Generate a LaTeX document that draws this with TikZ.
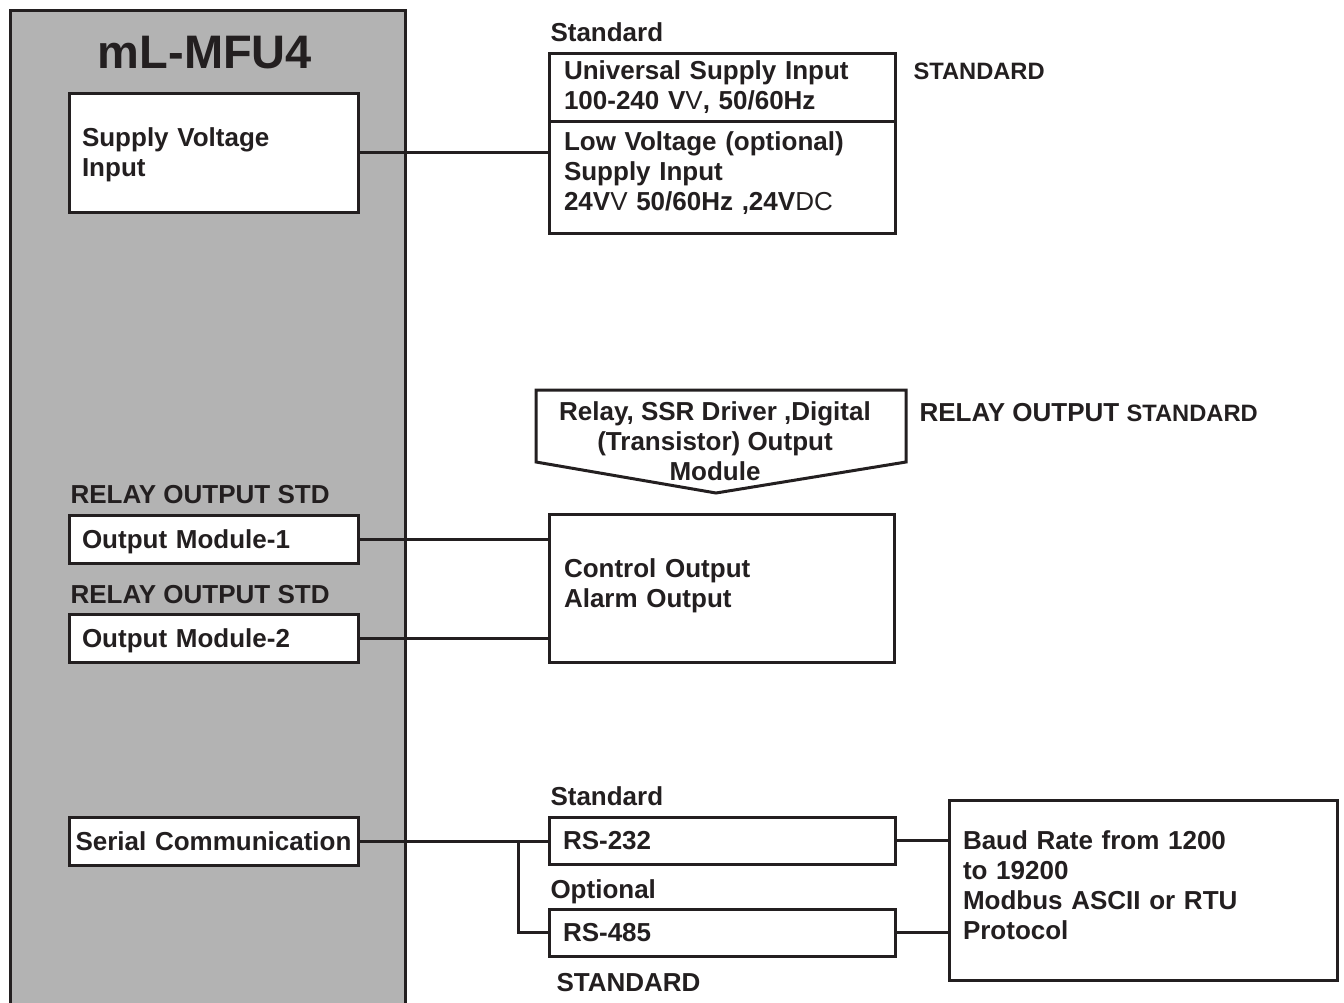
\documentclass[tikz,border=0pt]{standalone}
\usepackage{fontspec}
\setmainfont{Liberation Sans}
\definecolor{ink}{HTML}{231F20}
\definecolor{panel}{HTML}{B3B3B3}
\newcommand\fmain{\fontsize{26}{30}\selectfont\bfseries}
\newcommand\fsmall{\fontsize{23.7}{27}\selectfont\bfseries}
\newcommand\ftitle{\fontsize{47}{50}\selectfont\bfseries}
\begin{document}
\begin{tikzpicture}[x=1pt,y=-1pt,line width=3pt,
  bx/.style={draw=ink,fill=white,outer sep=0pt,anchor=north west,align=left,
    font=\fmain,text=ink,inner ysep=0pt},
  down/.style={text height=#1,text depth=0pt},
  up/.style={text height=0pt,text depth=#1},
  lbl/.style={anchor=base west,inner sep=0pt,font=\fmain,text=ink},
  conn/.style={draw=ink,line width=3pt}]
\useasboundingbox (0,0) rectangle (1344,1002);
% main panel
\fill[panel] (10,10) rectangle (405,1010);
\draw[ink] (10,1010) -- (10,10) -- (405,10) -- (405,1010);
\node[anchor=base,inner sep=0pt,font=\ftitle,text=ink] (title) at (205,68) {mL-MFU4};

% left boxes
\node[bx,inner xsep=13pt,text width=263pt,minimum height=119pt,up=12pt] (sup) at (69,93) {Supply Voltage\\Input};
\node[lbl] (l1) at (69,503) {RELAY OUTPUT STD};
\node[bx,inner xsep=13pt,text width=263pt,minimum height=48pt,down=18pt] (om1) at (69,515) {Output Module-1};
\node[lbl] (l2) at (69,603) {RELAY OUTPUT STD};
\node[bx,inner xsep=13pt,text width=263pt,minimum height=48pt,down=18pt] (om2) at (69,614) {Output Module-2};
\node[bx,inner xsep=2pt,text width=285pt,minimum height=48pt,align=center,down=18pt] (ser) at (69,817) {Serial Communication};

% supply side
\node[lbl] (std1) at (549,41) {Standard};
\node[bx,inner xsep=15pt,text width=316pt,minimum height=68pt,up=16pt] (upr) at (549,53) {Universal Supply Input\\100-240 V{\mdseries V}, 50/60Hz};
\node[bx,inner xsep=15pt,text width=316pt,minimum height=112pt,up=54pt] (low) at (549,121) {Low Voltage (optional)\\Supply Input\\24V{\mdseries V} 50/60Hz ,24V{\mdseries DC}};
\node[lbl,font=\fsmall] (std2) at (912,79) {STANDARD};

% output side
\draw[ink,fill=white] (536,390) -- (906,390) -- (906,462) -- (716,493) -- (536,462) -- cycle;
\node[font=\fmain,text=ink,align=center,inner sep=0pt] (mod) at (715,441) {Relay, SSR Driver ,Digital\\(Transistor) Output\\Module};
\node[lbl] (rostd) at (918,421) {RELAY OUTPUT {\fsmall STANDARD}};
\node[bx,inner xsep=15pt,text width=315pt,minimum height=148pt,up=22pt] (ctrl) at (549,514) {Control Output\\Alarm Output};

% serial side
\node[lbl] (std3) at (549,805) {Standard};
\node[bx,inner xsep=14pt,text width=318pt,minimum height=47pt,down=17pt] (rs232) at (549,817) {RS-232};
\node[lbl] (opt) at (549,898) {Optional};
\node[bx,inner xsep=14pt,text width=318pt,minimum height=47pt,down=18pt] (rs485) at (549,909) {RS-485};
\node[lbl] (std4) at (555,991) {STANDARD};
\node[bx,inner xsep=14pt,text width=360pt,minimum height=180pt,up=82pt] (baud) at (949,800) {Baud Rate from 1200\\to 19200\\Modbus ASCII or RTU\\Protocol};

% connectors
\draw[conn] (sup.east) -- (sup.east -| low.west);
\draw[conn] (om1.east) -- (om1.east -| ctrl.west);
\draw[conn] (om2.east) -- (om2.east -| ctrl.west);
\draw[conn] (ser.east) -- (ser.east -| rs232.west);
\coordinate (br) at (518,841);
\draw[conn] (br) |- (rs485.west);
\draw[conn] (rs232.east) -- (rs232.east -| baud.west);
\draw[conn] (rs485.east) -- (rs485.east -| baud.west);
\end{tikzpicture}
\end{document}
